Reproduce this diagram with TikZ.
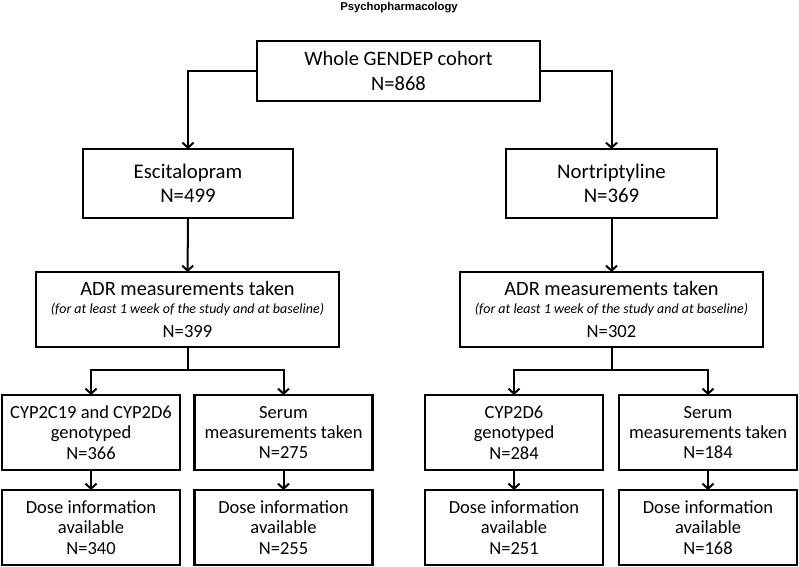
\documentclass[tikz,border=0pt]{standalone}
\usepackage{fontspec}
\setmainfont{Carlito}
\newfontfamily\headfont{Liberation Sans}
\usetikzlibrary{arrows.meta}

\tikzset{
  box/.style={draw,line width=2.2pt,align=center,inner sep=0pt,outer sep=0pt},
  arr/.style={line width=2pt,-{Straight Barb[length=5pt,width=11pt]}},
  link/.style={line width=2pt}
}

\begin{document}
\begin{tikzpicture}[x=1pt,y=-1pt]
    \useasboundingbox (0,0) rectangle (799,566);
    \node (journal) at (399,8) {\headfont\bfseries\fontsize{11.3}{13}\selectfont Psychopharmacology};
    % cohort and the two drugs
    \node[box,minimum width=283pt,minimum height=60pt,font=\fontsize{20.5}{24.7}\selectfont] (cohort) at (398.5,71) {Whole GENDEP cohort\\N=868};
    \node[box,minimum width=210pt,minimum height=69pt,font=\fontsize{20.8}{24}\selectfont] (escit) at (188,183.5) {Escitalopram\\N=499};
    \node[box,minimum width=211pt,minimum height=69pt,font=\fontsize{20.8}{24}\selectfont] (nortr) at (611.5,183.5) {Nortriptyline\\N=369};
    % ADR boxes
    \node[box,minimum width=303pt,minimum height=75pt,font=\fontsize{18.6}{24.3}\selectfont] (adrE) at (187.5,309.5)
      {{\fontsize{20.4}{24.3}\selectfont ADR measurements taken}\\[-6.9pt]
       {\fontsize{14}{24.3}\selectfont\itshape (for at least 1 week of the study and at baseline)}\\
       N=399};
    \node[box,minimum width=303pt,minimum height=75pt,font=\fontsize{18.6}{24.3}\selectfont] (adrN) at (611.5,309.5)
      {{\fontsize{20.4}{24.3}\selectfont ADR measurements taken}\\[-6.9pt]
       {\fontsize{14}{24.3}\selectfont\itshape (for at least 1 week of the study and at baseline)}\\
       N=302};
    % bottom rows
    \tikzset{small/.style={box,minimum width=178pt,minimum height=75pt,font=\fontsize{18.5}{20.4}\selectfont}}
    \node[small] (genoE) at (91,432.5) {CYP2C19 and CYP2D6\\genotyped\\N=366};
    \node[small] (serE) at (283.5,432.5) {Serum\\measurements taken\\N=275};
    \node[small] (doseE1) at (91,527.5) {Dose information\\available\\N=340};
    \node[small] (doseE2) at (283.5,527.5) {Dose information\\available\\N=255};
    \node[small] (genoN) at (514,432.5) {CYP2D6\\genotyped\\N=284};
    \node[small] (serN) at (708,432.5) {Serum\\measurements taken\\N=184};
    \node[small] (doseN1) at (514,527.5) {Dose information\\available\\N=251};
    \node[small] (doseN2) at (708,527.5) {Dose information\\available\\N=168};
    \coordinate (splitE) at (187.5,370);
    \coordinate (splitN) at (611.5,370);
    % connectors
    \draw[arr] (cohort.west) -| (escit.north);
    \draw[arr] (cohort.east) -| (nortr.north);
    \draw[arr] (escit) -- (adrE);
    \draw[arr] (nortr) -- (adrN);
    \draw[link] (adrE.south) -- (splitE);
    \draw[link] (adrN.south) -- (splitN);
    \draw[arr] (splitE) -| (genoE.north);
    \draw[arr] (splitE) -| (serE.north);
    \draw[arr] (splitN) -| (genoN.north);
    \draw[arr] (splitN) -| (serN.north);
    \draw[arr] (genoE) -- (doseE1);
    \draw[arr] (serE) -- (doseE2);
    \draw[arr] (genoN) -- (doseN1);
    \draw[arr] (serN) -- (doseN2);
\end{tikzpicture}
\end{document}
